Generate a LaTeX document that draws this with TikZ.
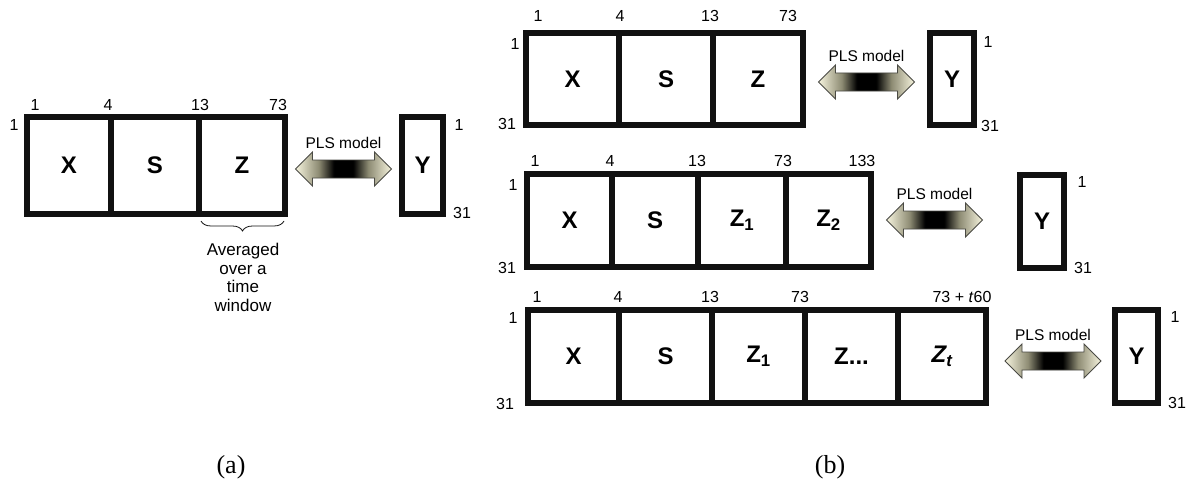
\documentclass[tikz,border=0pt]{standalone}
\usepackage{fontspec}
\setmainfont{Liberation Sans}
\newfontfamily\capfont{Liberation Serif}
\usetikzlibrary{decorations.pathreplacing,calc}
\definecolor{plscream}{HTML}{F6F4DE}
\definecolor{plsmid}{HTML}{8E8C74}
\definecolor{plsedge}{HTML}{4A4A44}
\definecolor{boxline}{HTML}{111111}
\pgfdeclarehorizontalshading{plsshade}{100bp}{color(0bp)=(plscream); color(25bp)=(plscream); color(37bp)=(plsmid); color(45bp)=(black); color(55bp)=(black); color(63bp)=(plsmid); color(75bp)=(plscream); color(100bp)=(plscream)}
\tikzset{
  cellbox/.style={draw=boxline, line width=6pt, inner sep=0pt, outer sep=0pt, rectangle,
    font=\fontsize{24}{26}\selectfont\bfseries},
  numlab/.style={inner sep=0pt, font=\fontsize{16}{18}\selectfont},
  plslab/.style={inner sep=0pt, font=\fontsize{15.5}{18}\selectfont},
  notelab/.style={inner sep=0pt, align=center, font=\fontsize{17}{18.5}\selectfont},
  caplab/.style={inner sep=0pt, font=\fontsize{26}{30}\selectfont\capfont},
  plsarrow/.pic={
    \shade[draw=plsedge, line width=0.9pt, shading=plsshade, line join=miter]
      (-48,0) -- (-31,-17) -- (-31,-9) -- (31,-9) -- (31,-17) -- (48,0)
      -- (31,17) -- (31,9) -- (-31,9) -- (-31,17) -- cycle;
    \node[plslab] (-label) at (0,-26) {PLS model};
  }
}
\begin{document}
\begin{tikzpicture}[x=1pt,y=-1pt]
\useasboundingbox[fill=white] (0,0) rectangle (1191,487);

% ---------------- panel (a) ----------------
\node[cellbox, minimum width=84pt, minimum height=97pt] (ax) at (69,165.5) {X};
\node[cellbox, minimum width=88pt, minimum height=97pt] (as) at (155,165.5) {S};
\node[cellbox, minimum width=86pt, minimum height=97pt] (az) at (242,165.5) {Z};
\node[cellbox, minimum width=41pt, minimum height=97pt] (ay) at (422.5,165.5) {Y};
\pic (aarr) at (343.5,169) {plsarrow};

\node[numlab] (at1) at (35,105) {1};
\node[numlab] (at4) at (108,105) {4};
\node[numlab] (at13) at (200,105) {13};
\node[numlab] (at73) at (278,105) {73};
\node[numlab] (al1) at (14,125) {1};
\node[numlab] (ar1) at (459,125) {1};
\node[numlab] (ar31) at (462,213) {31};

\draw[decorate, decoration={brace, mirror, amplitude=10pt}, line width=0.8pt, draw=boxline]
  ($(az.south west)+(2,7)$) -- ($(az.south east)+(-1,7)$);
\node[notelab, anchor=north] (anote) at ($(az.south)+(1,29)$) {Averaged\\over a\\time\\window};

\node[caplab] (capa) at (231,467) {(a)};

% ---------------- panel (b), row 1 ----------------
\node[cellbox, minimum width=93pt, minimum height=92pt] (bx1) at (572.5,79) {X};
\node[cellbox, minimum width=94pt, minimum height=92pt] (bs1) at (666,79) {S};
\node[cellbox, minimum width=90pt, minimum height=92pt] (bz1) at (758,79) {Z};
\node[cellbox, minimum width=44pt, minimum height=92pt] (by1) at (952,79) {Y};
\pic (barr1) at (866.5,82) {plsarrow};

\node[numlab] (b1t1) at (538,16) {1};
\node[numlab] (b1t4) at (620,16) {4};
\node[numlab] (b1t13) at (710,16) {13};
\node[numlab] (b1t73) at (788,16) {73};
\node[numlab] (b1l1) at (515,44) {1};
\node[numlab] (b1l31) at (507,124) {31};
\node[numlab] (b1r1) at (988,42) {1};
\node[numlab] (b1r31) at (990,126) {31};

% ---------------- panel (b), row 2 ----------------
\node[cellbox, minimum width=85pt, minimum height=93pt] (bx2) at (569.5,220.5) {X};
\node[cellbox, minimum width=86pt, minimum height=93pt] (bs2) at (655,220.5) {S};
\node[cellbox, minimum width=88pt, minimum height=93pt] (bza2) at (742,220.5) {Z\textsubscript{1}};
\node[cellbox, minimum width=85pt, minimum height=93pt] (bzb2) at (828.5,220.5) {Z\textsubscript{2}};
\node[cellbox, minimum width=44pt, minimum height=93pt] (by2) at (1042,221.5) {Y};
\pic (barr2) at (934.5,220) {plsarrow};

\node[numlab] (b2t1) at (535,161) {1};
\node[numlab] (b2t4) at (610,161) {4};
\node[numlab] (b2t13) at (697,161) {13};
\node[numlab] (b2t73) at (783,161) {73};
\node[numlab] (b2t133) at (862,161) {133};
\node[numlab] (b2l1) at (513,185) {1};
\node[numlab] (b2l31) at (507,268) {31};
\node[numlab] (b2r1) at (1082,182) {1};
\node[numlab] (b2r31) at (1083,268) {31};

% ---------------- panel (b), row 3 ----------------
\node[cellbox, minimum width=91pt, minimum height=93pt] (bx3) at (573.5,356.5) {X};
\node[cellbox, minimum width=93pt, minimum height=93pt] (bs3) at (665.5,356.5) {S};
\node[cellbox, minimum width=93pt, minimum height=93pt] (bza3) at (758.5,356.5) {Z\textsubscript{1}};
\node[cellbox, minimum width=93pt, minimum height=93pt] (bzd3) at (851.5,356.5) {Z...};
\node[cellbox, minimum width=88pt, minimum height=93pt] (bzt3) at (942,356.5) {\itshape Z\textsubscript{t}};
\node[cellbox, minimum width=43pt, minimum height=93pt] (by3) at (1136.5,356.5) {Y};
\pic (barr3) at (1053,361) {plsarrow};

\node[numlab] (b3t1) at (537,297) {1};
\node[numlab] (b3t4) at (618,297) {4};
\node[numlab] (b3t13) at (710,297) {13};
\node[numlab] (b3t73) at (800,297) {73};
\node[numlab] (b3tt) at (962,297) {73 + \textit{t}60};
\node[numlab] (b3l1) at (513,318) {1};
\node[numlab] (b3l31) at (505,404) {31};
\node[numlab] (b3r1) at (1175,317) {1};
\node[numlab] (b3r31) at (1177,403) {31};

\node[caplab] (capb) at (830,467) {(b)};
\end{tikzpicture}
\end{document}
